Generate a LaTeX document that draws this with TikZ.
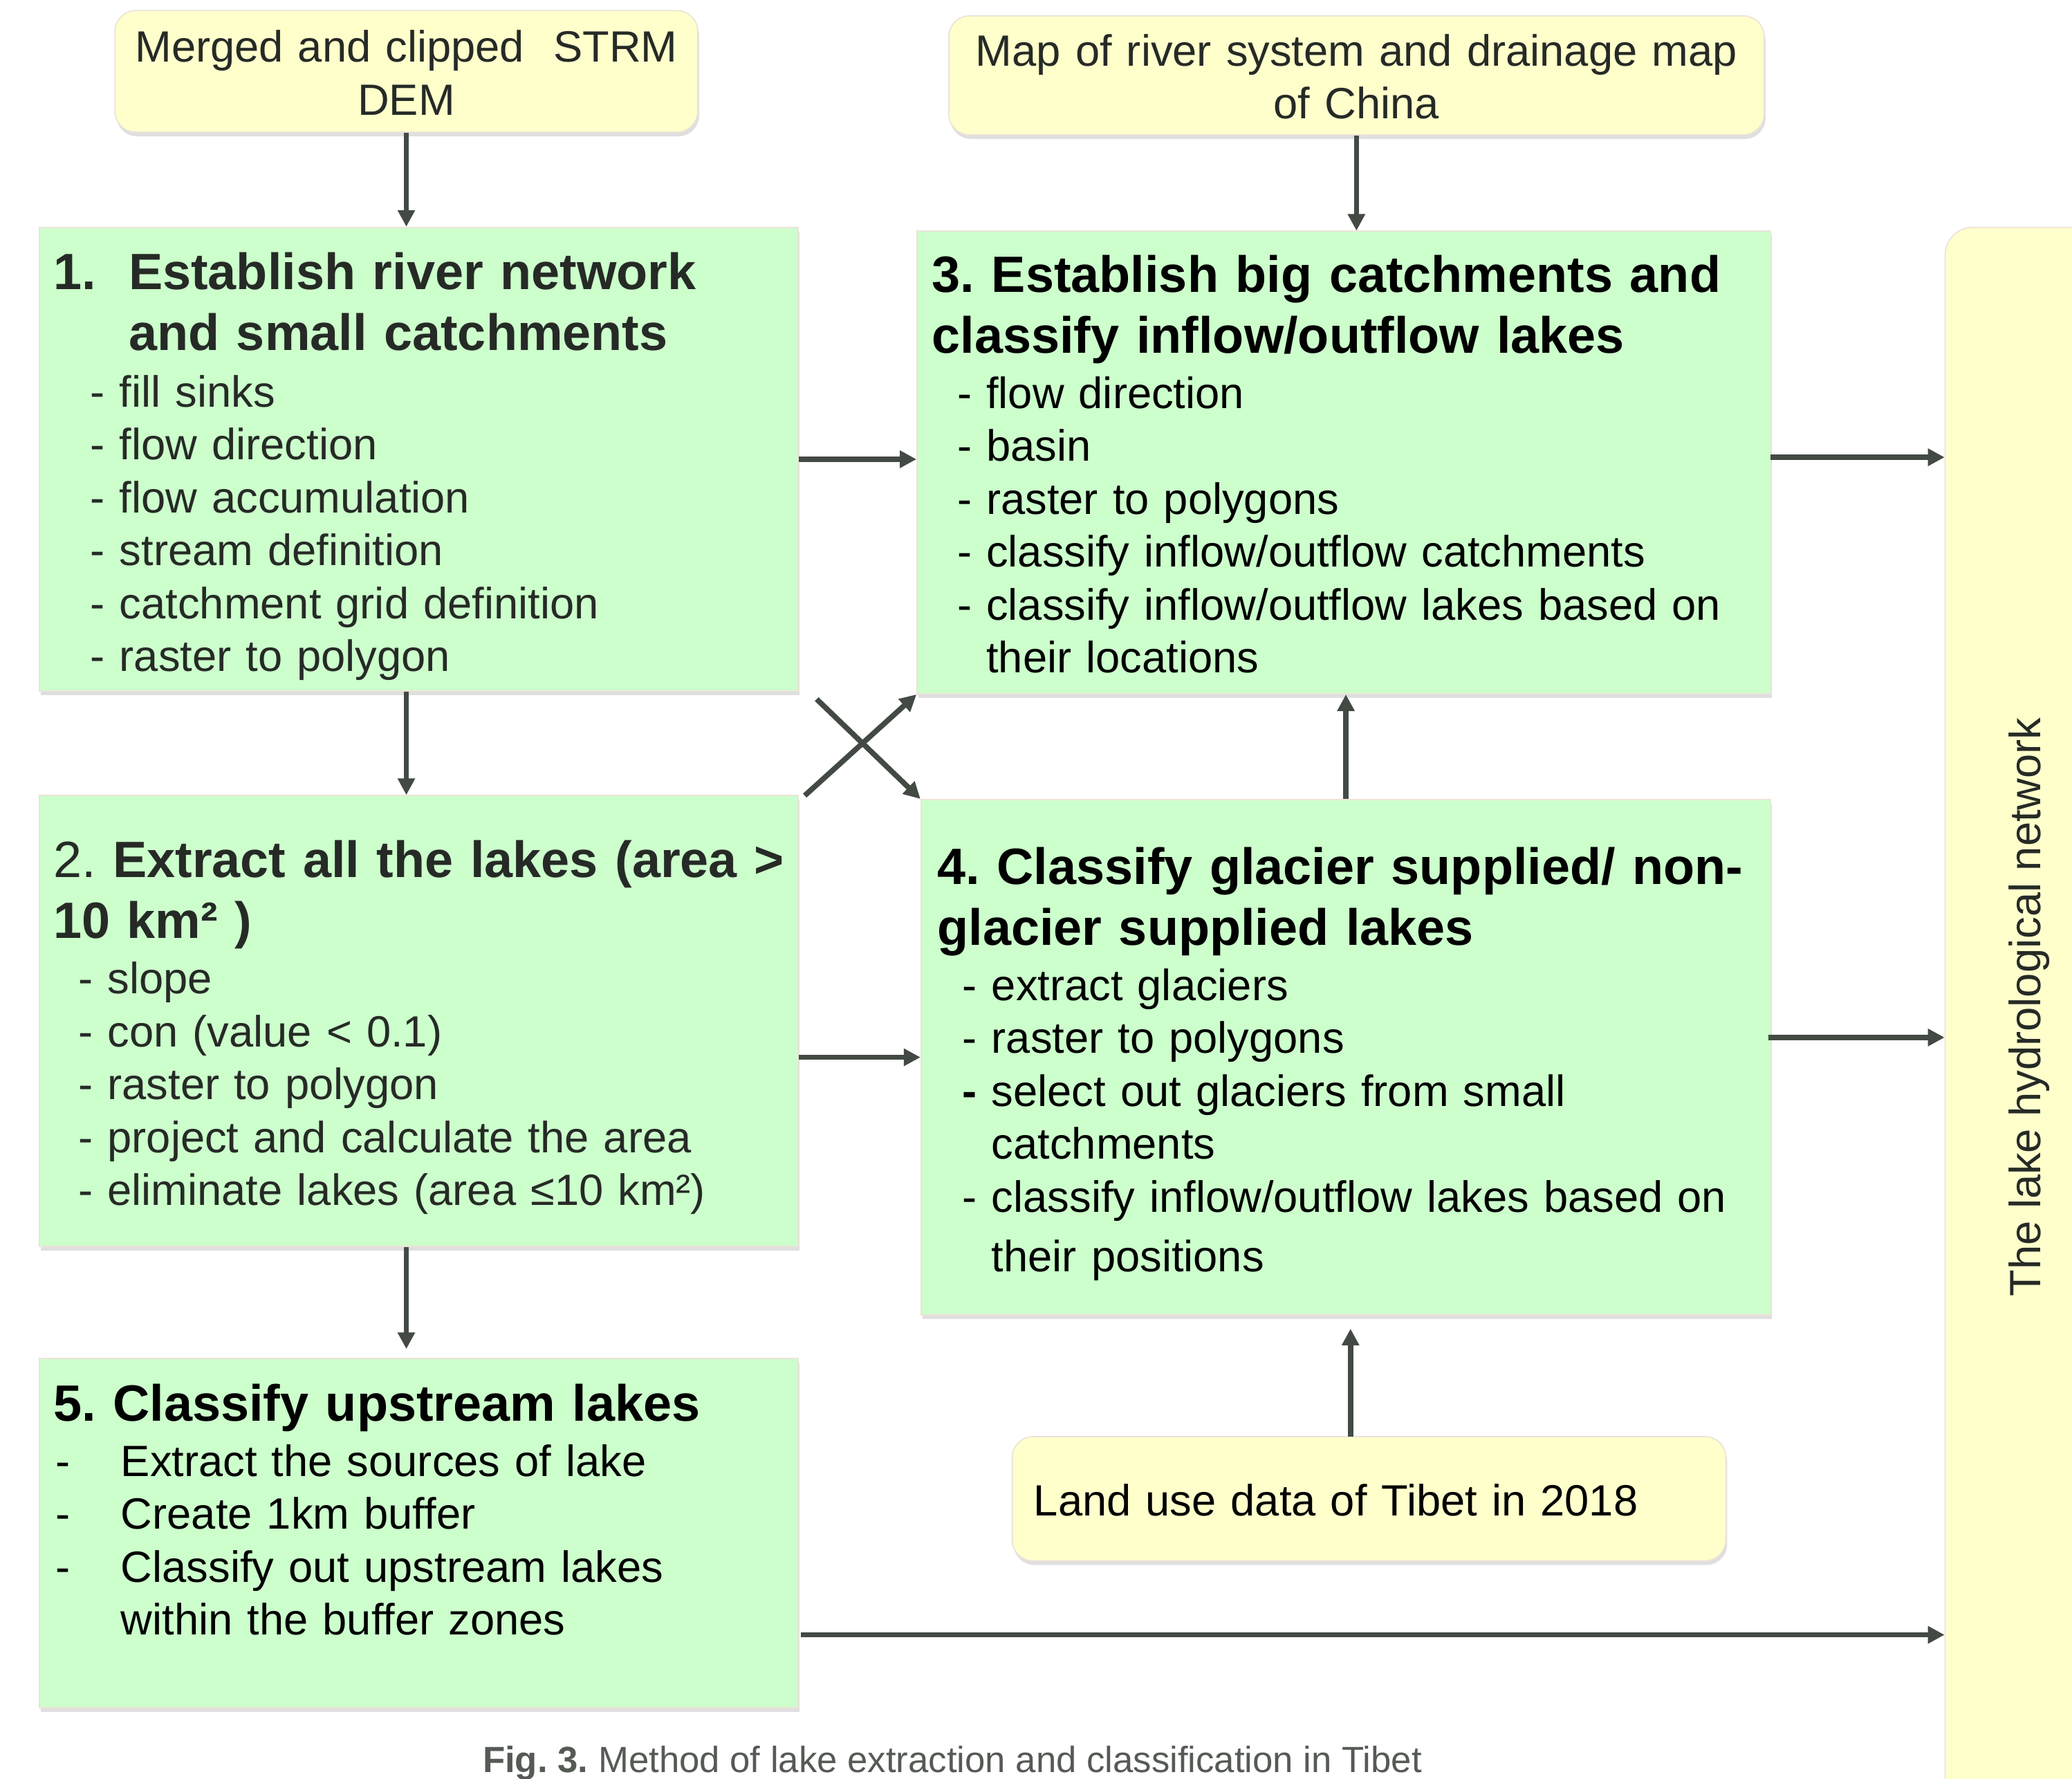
\documentclass[tikz,border=0pt]{standalone}
\usepackage{fontspec}
\setmainfont{Liberation Sans}
\usetikzlibrary{calc,fit,shadows,arrows.meta}
\definecolor{boxgreen}{HTML}{CCFFCC}
\definecolor{boxyellow}{HTML}{FFFFCC}
\definecolor{boxedge}{HTML}{EDE3D8}
\definecolor{arrowgray}{HTML}{434A44}
\definecolor{textgray}{HTML}{262A26}
\definecolor{capgray}{HTML}{555A55}
\newcommand{\bodyfont}{\fontsize{18pt}{21.75pt}\selectfont}
\newcommand{\headfont}{\fontsize{21pt}{25pt}\selectfont\bfseries}
\frenchspacing

\begin{document}
\begin{tikzpicture}[x=0.01911cm, y=-0.01911cm,
  gbox/.style={draw=boxedge, line width=0.5pt, fill=boxgreen, inner sep=0pt,
    drop shadow={shadow xshift=0.02cm, shadow yshift=-0.06cm, opacity=0.25}},
  ybox/.style={gbox, fill=boxyellow, rounded corners=0.3cm},
  head/.style={anchor=base west, inner sep=0pt, text width=12cm, align=left, font=\headfont},
  items/.style={anchor=base west, inner sep=0pt, text width=12cm, align=left, font=\bodyfont},
  ctext/.style={anchor=base, inner sep=0pt, text width=12cm, align=center, font=\bodyfont},
  arr/.style={-{Triangle[length=0.24cm,width=0.24cm]}, line width=2.2pt, draw=arrowgray}]
\useasboundingbox (0,0) rectangle (1568,1346);

% input data
\node[ybox, fit={(87,8) (528,100)}] (dem) {};
\node[ctext, text=textgray] (demtxt) at (307.5,47) {Merged and clipped~ STRM\\DEM};
\node[ybox, fit={(718,12) (1335,102)}] (map) {};
\node[ctext, text=textgray] (maptxt) at (1026.5,50) {Map of river system and drainage map\\of China};
\node[ybox, fit={(766,1087) (1306,1181)}] (land) {};
\node[items, text=black] (landtxt) at (782,1147) {Land use data of Tibet in 2018};
\node[ybox, rounded corners=0.4cm, fit={(1472,172) (1640,1365)}] (net) {};
\node[rotate=90, anchor=base, inner sep=0pt, font=\bodyfont, text=textgray] (nettxt) at (1544,762) {The lake hydrological network};

% steps
\node[gbox, fit={(30,172) (604,523)}] (s1) {};
\node[gbox, fit={(694,175) (1340,525)}] (s3) {};
\node[gbox, fit={(30,602) (604,943)}] (s2) {};
\node[gbox, fit={(697,605) (1340,995)}] (s4) {};
\node[gbox, fit={(30,1028) (604,1292)}] (s5) {};

\node[head, text=textgray] (h1) at (40,219) {\makebox[1.09cm][l]{1.}Establish river network\\\hspace*{1.09cm}and small catchments};
\node[items, text=textgray] (l1) at (68,308) {- fill sinks\\- flow direction\\- flow accumulation\\- stream definition\\- catchment grid definition\\- raster to polygon};
\node[head] (h3) at (705,221) {3. Establish big catchments and\\classify inflow/outflow lakes};
\node[items] (l3) at (724,309) {- flow direction\\- basin\\- raster to polygons\\- classify inflow/outflow catchments\\- classify inflow/outflow lakes based on\\\phantom{-~}their locations};
\node[head, text=textgray] (h2) at (40,664) {{\mdseries 2.} Extract all the lakes (area >\\10 km² )};
\node[items, text=textgray] (l2) at (59,752) {- slope\\- con (value < 0.1)\\- raster to polygon\\- project and calculate the area\\- eliminate lakes (area ≤10 km²)};
\node[head] (h4) at (709,669) {4. Classify glacier supplied/ non-\\glacier supplied lakes};
\node[items] (l4) at (728,757) {- extract glaciers\\- raster to polygons\\\textbf{-} select out glaciers from small\\\phantom{-~}catchments\\- classify inflow/outflow lakes based on\\[0.1cm]\phantom{-~}their positions};
\node[head] (h5) at (40,1075) {5. Classify upstream lakes};
\node[items] (l5) at (42,1117) {\makebox[0.94cm][l]{-}Extract the sources of lake\\\makebox[0.94cm][l]{-}Create 1km buffer\\\makebox[0.94cm][l]{-}Classify out upstream lakes\\\hspace*{0.94cm}within the buffer zones};

\node[anchor=base west, inner sep=0pt, font=\fontsize{15pt}{18pt}\selectfont, text=capgray] (cap) at (365,1341) {\textbf{Fig. 3.} Method of lake extraction and classification in Tibet};

% connectors
\draw[arr] (dem.south) -- (dem.south |- s1.north);
\draw[arr] (map.south) -- (map.south |- s3.north);
\draw[arr] (s1.east) -- (s1.east -| s3.west);
\draw[arr] (dem.south |- s1.south) -- (dem.south |- s2.north);
\draw[arr, shorten >=0.13cm] (dem.south |- s2.south) -- (dem.south |- s5.north);
\draw[arr] (s4.west -| s2.east) -- (s4.west);
\draw[arr] (s4.north) -- (s4.north |- s3.south);
\coordinate (x1) at (618,529);
\coordinate (x2) at (609,602);
\draw[arr] (x1) -- (s4.north west);
\draw[arr] (x2) -- (s3.south west);
\coordinate (lu) at (1022,1087);
\draw[arr, shorten >=0.19cm] (lu) -- (lu |- s4.south);
\coordinate (o3) at (1340,346);
\draw[arr] (o3) -- (o3 -| net.west);
\coordinate (o4) at (1338,785);
\draw[arr] (o4) -- (o4 -| net.west);
\coordinate (o5) at (606,1237);
\draw[arr] (o5) -- (o5 -| net.west);
\end{tikzpicture}
\end{document}
